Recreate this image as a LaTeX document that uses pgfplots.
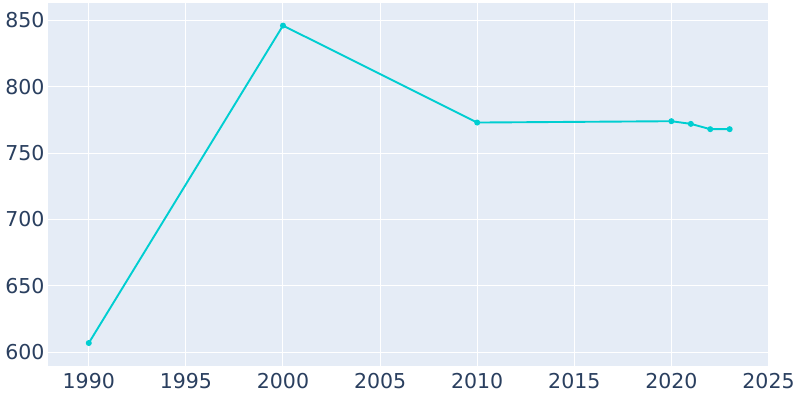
\documentclass[border=0pt]{standalone}
\usepackage{pgfplots}
\pgfplotsset{compat=1.18}
\usepackage{fontspec}
\setmainfont{DejaVu Sans}
\definecolor{bgc}{HTML}{E5ECF6}
\definecolor{txt}{HTML}{2A3F5F}
\definecolor{linec}{HTML}{00CED1}
\begin{document}
\begin{tikzpicture}[x=1bp,y=1bp]
\useasboundingbox[fill=white] (0,0) rectangle (800,400);
\begin{axis}[
  at={(48bp,34bp)}, anchor=south west,
  scale only axis, width=720.5bp, height=363bp,
  xmin=1987.9, xmax=2025.0, ymin=589.7, ymax=863,
  axis background/.style={fill=bgc},
  axis line style={draw=none},
  major tick length=0pt,
  grid=major,
  major grid style={white, line width=1bp},
  xtick={1990,1995,...,2025},
  ytick={600,650,...,850},
  /pgf/number format/assume math mode=true,
  /pgf/number format/set thousands separator={},
  ticklabel style={font=\fontsize{20.5bp}{24bp}\selectfont, text=txt},
  xticklabel style={yshift=-4bp},
  yticklabel style={xshift=0bp},
]
\addplot[linec, line width=1.9bp, mark=*, mark size=2bp, mark options={fill=linec, draw=linec}] coordinates {
(1990,607) (2000,846) (2010,773) (2020,774) (2021,772) (2022,768) (2023,768)
};
\end{axis}
\end{tikzpicture}
\end{document}
